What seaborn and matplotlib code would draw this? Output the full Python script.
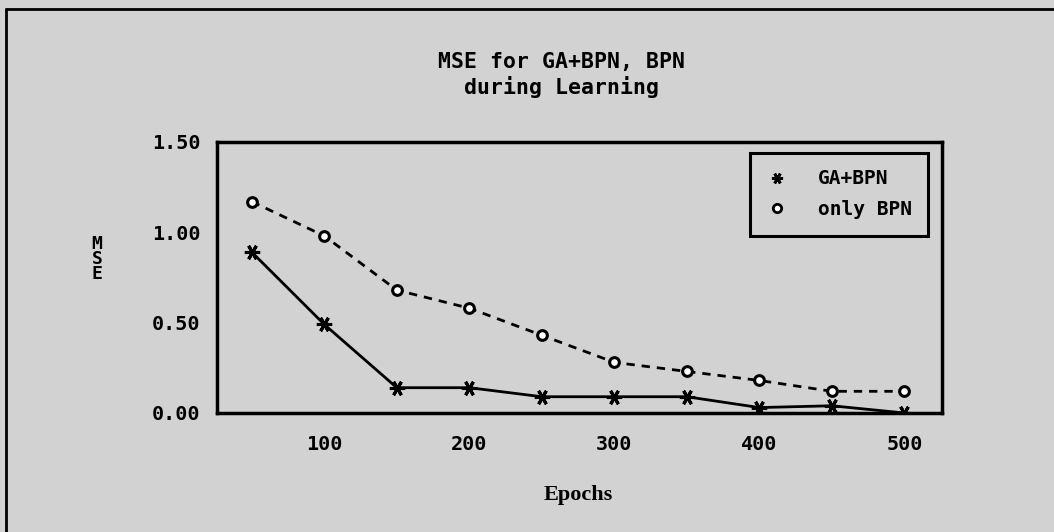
import numpy as np
import pandas as pd
import seaborn as sns
import matplotlib.pyplot as plt
from matplotlib.lines import Line2D

# Datos
epochs = [50, 100, 150, 200, 250, 300, 350, 400, 450, 500]
mse_ga_bpn = [0.89, 0.49, 0.14, 0.14, 0.09, 0.09, 0.09, 0.03, 0.04, 0.00]
mse_only_bpn = [1.17, 0.98, 0.68, 0.58, 0.43, 0.28, 0.23, 0.18, 0.12, 0.12]
y_ticks = [0.0, 0.5, 1.0, 1.5]
x_ticks = [100, 200, 300, 400, 500]

df = pd.DataFrame({
    "Epochs": epochs * 2,
    "MSE": mse_ga_bpn + mse_only_bpn,
    "serie": ["GA+BPN"] * len(epochs) + ["only BPN"] * len(epochs),
})

sns.set_style("white")
plt.rcParams['font.family'] = ['DejaVu Sans Mono', 'DejaVu Sans']
plt.rcParams['text.color'] = 'black'
plt.rcParams['xtick.color'] = 'black'
plt.rcParams['ytick.color'] = 'black'
bg = "#d2d2d2"

fig = plt.figure(figsize=(10.54, 5.32), dpi=100, facecolor=bg)
ax = fig.add_axes([0.2059, 0.2237, 0.6879, 0.5094])
ax.set_facecolor(bg)

sns.lineplot(data=df[df.serie == "GA+BPN"], x="Epochs", y="MSE", ax=ax,
             color="black", linewidth=2, marker=(6, 2, 90), markersize=11,
             markeredgewidth=2.2, markeredgecolor="black")
sns.lineplot(data=df[df.serie == "only BPN"], x="Epochs", y="MSE", ax=ax,
             color="black", linewidth=2, linestyle=(0, (3, 2.5)), marker="o",
             markersize=7, markeredgewidth=2.2, markerfacecolor="white",
             markeredgecolor="black")

ax.set_xlim(26, 526)
ax.set_ylim(0, 1.5)
ax.set_xticks(epochs)
ax.set_xticklabels([str(e) if e in x_ticks else "" for e in epochs])
ax.set_yticks(y_ticks)
ax.set_yticklabels([f"{v:.2f}" for v in y_ticks])
ax.tick_params(axis="both", direction="out", length=6, width=2, color="black",
               labelsize=14.5, labelcolor="black")
ax.tick_params(axis="x", pad=10)
ax.tick_params(axis="y", pad=6)
for lab in ax.get_xticklabels() + ax.get_yticklabels():
    lab.set_fontweight("bold")
for sp in ax.spines.values():
    sp.set_visible(True)
    sp.set_linewidth(2.5)
    sp.set_color("black")

ax.set_xlabel("")
ax.set_ylabel("")
fig.text(578 / 1054, 1 - 495 / 532, "Epochs", ha="center", va="center",
         fontsize=16, fontweight="bold", family="Liberation Serif")
fig.text(97 / 1054, 1 - 259 / 532, "M\nS\nE", ha="center", va="center",
         fontsize=13, fontweight="bold", linespacing=0.8)
fig.text(562 / 1054, 1 - 75 / 532, "MSE for GA+BPN, BPN\nduring Learning",
         ha="center", va="center", fontsize=15.5, fontweight="bold",
         linespacing=1.2)

handles = [
    Line2D([], [], linestyle="none", marker=(6, 2, 90), markersize=8,
           markeredgewidth=2, color="black"),
    Line2D([], [], linestyle="none", marker="o", markersize=6,
           markeredgewidth=2, markerfacecolor="white", markeredgecolor="black"),
]
leg = ax.legend(handles, ["GA+BPN", "only BPN"], loc="upper right",
                bbox_to_anchor=(0.9807, 0.96), frameon=True, fancybox=False,
                facecolor=bg, edgecolor="black", handlelength=1.0,
                handletextpad=1.6, borderpad=0.85, labelspacing=0.6,
                borderaxespad=0,
                prop={"family": "DejaVu Sans Mono", "weight": "bold", "size": 14})
leg.get_frame().set_linewidth(2.2)
leg.get_frame().set_alpha(1)

# Marco exterior (solo arriba e izquierda visibles)
fig.add_artist(Line2D([6 / 1054, 1.0], [1 - 9 / 532, 1 - 9 / 532],
                      transform=fig.transFigure, color="black", linewidth=2))
fig.add_artist(Line2D([6 / 1054, 6 / 1054], [0.0, 1 - 9 / 532],
                      transform=fig.transFigure, color="black", linewidth=2))

plt.savefig("out.png", dpi=100, facecolor=bg)
